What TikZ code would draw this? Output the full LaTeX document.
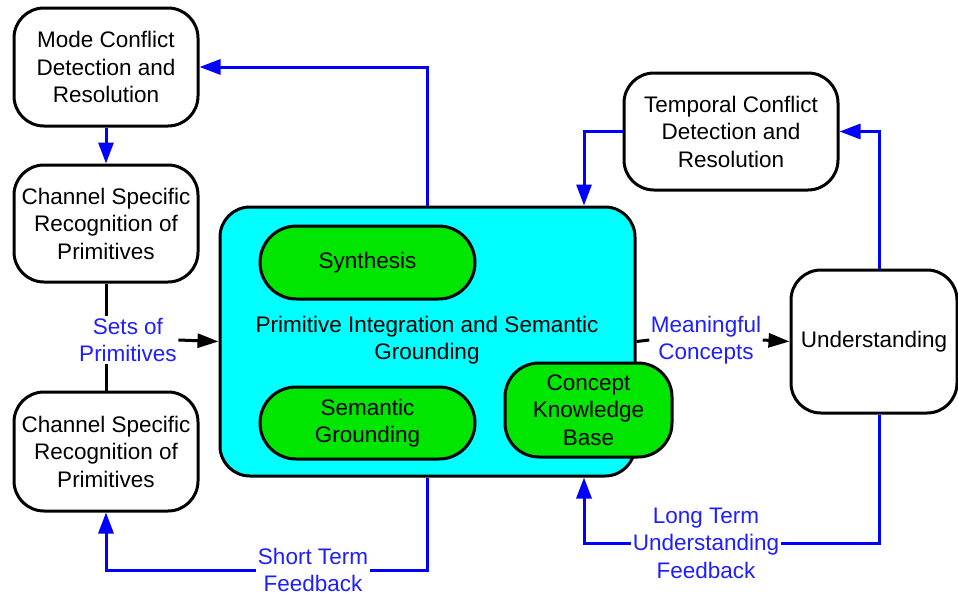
\documentclass[tikz,border=0pt]{standalone}
\usepackage{fontspec}
\setmainfont{Liberation Sans}
\usetikzlibrary{arrows.meta}
\definecolor{boxcyan}{RGB}{0,255,255}
\definecolor{boxgreen}{RGB}{0,230,0}
\definecolor{linkblue}{RGB}{0,0,255}
\definecolor{labelblue}{RGB}{30,30,255}
\begin{document}
\begin{tikzpicture}[x=1pt,y=-1pt,
  every node/.style={font=\fontsize{22.5}{27.5}\selectfont, align=center},
  whitebox/.style={draw=black, line width=3pt, fill=white, rounded corners=30pt, inner sep=2pt},
  mainbox/.style={draw=black, line width=3pt, fill=boxcyan, rounded corners=30pt, inner sep=2pt},
  pill/.style={draw=black, line width=3pt, fill=boxgreen, inner sep=2pt},
  flowlabel/.style={text=labelblue, inner sep=1.5pt},
  blueflow/.style={draw=linkblue, line width=3pt, -{Triangle[length=21pt,width=15pt]}},
  blueline/.style={draw=linkblue, line width=3pt},
  blackflow/.style={draw=black, line width=3pt, -{Triangle[length=21pt,width=14pt]}},
  blackline/.style={draw=black, line width=3pt}]
\useasboundingbox (0,0) rectangle (958,597);

% left column
\node[whitebox, minimum width=184pt, minimum height=118pt] (mode) at (106,67) {Mode Conflict\\Detection and\\Resolution};
\node[whitebox, minimum width=184pt, minimum height=117pt] (ch1) at (106,223.5) {Channel Specific\\Recognition of\\Primitives};
\node[whitebox, minimum width=184pt, minimum height=119pt] (ch2) at (106,451.5) {Channel Specific\\Recognition of\\Primitives};

% central integration block
\node[mainbox, minimum width=415pt, minimum height=269pt] (core) at (427.5,341.5) {};
\node at (427,340) (coretext) {Primitive Integration and Semantic\\Grounding};
\node[pill, rounded corners=36.5pt, minimum width=215pt, minimum height=73pt] (syn) at (367.5,262.5) {Synthesis};
\node[pill, rounded corners=36pt, minimum width=215pt, minimum height=72pt] (sg) at (367.5,423) {Semantic\\Grounding};
\node[pill, rounded corners=34pt, minimum width=167pt, minimum height=94pt] (ckb) at (588.5,410) {Concept\\Knowledge\\Base};

% right side
\node[whitebox, minimum width=214pt, minimum height=117pt] (tcr) at (731,131.5) {Temporal Conflict\\Detection and\\Resolution};
\node[whitebox, minimum width=166pt, minimum height=143pt] (und) at (874,341.5) {Understanding};

% flow labels
\node[flowlabel] (sets) at (128,340) {Sets of\\Primitives};
\node[flowlabel] (mean) at (706,340) {Meaningful\\Concepts};
\node[flowlabel] (short) at (313,570) {Short Term\\Feedback};
\node[flowlabel] (long) at (706,543) {Long Term\\Understanding\\Feedback};

% helper columns for the feedback paths
\coordinate (kx) at (584,0);
\coordinate (ux) at (879,0);

% forward flow
\draw[blackline] (ch1.south) -- (ch1.south |- sets.north);
\draw[blackline] (sets.south -| ch2.north) -- (ch2.north);
\draw[blackflow] (sets.east) -- (core.west);
\draw[blackline] (core.east) -- (mean.west);
\draw[blackflow] (mean.east) -- (und.west);

% conflict resolution loops
\draw[blueflow] (core.north) |- (mode.east);
\draw[blueflow] (mode.south) -- (ch1.north);
\draw[blueflow] (und.north -| ux) |- (tcr.east);
\draw[blueflow] (tcr.west) -| (core.north -| kx);

% feedback loops
\draw[blueline] (core.south) |- (short.east);
\draw[blueflow] (short.west) -| (ch2.south);
\draw[blueline] (und.south -| ux) |- (long.east);
\draw[blueflow] (long.west) -| (core.south -| kx);
\end{tikzpicture}
\end{document}
